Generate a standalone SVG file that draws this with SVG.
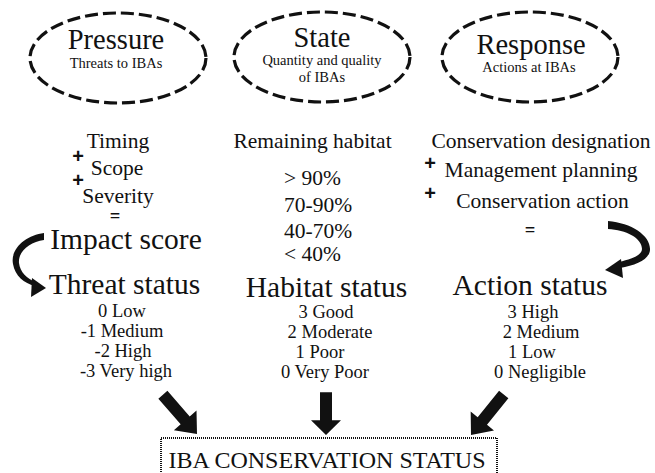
<svg xmlns="http://www.w3.org/2000/svg" width="655" height="473" viewBox="0 0 655 473">
<style>
text{font-family:"Liberation Serif","Times New Roman",serif;fill:#111;text-anchor:middle}
.oval{fill:none;stroke:#111;stroke-width:3.2;stroke-dasharray:13 5}
.t{font-size:28.5px}
.s{font-size:14.5px}
.m{font-size:21.5px}
.b{font-size:29.5px}
.l{font-size:18.5px}
.op{font-family:"Liberation Sans",Arial,sans-serif;font-weight:bold;font-size:20px}
.eq{font-family:"Liberation Sans",Arial,sans-serif;font-weight:bold;font-size:12px}
.ar{fill:#111}
</style>
<defs>
<path id="blk" d="M-6,-52 L6,-52 L6,-18 L15,-18 L0,0 L-15,-18 L-6,-18 Z"/>
</defs>
<g id="pressure">
<ellipse class="oval" cx="118" cy="58" rx="88" ry="45"/>
<text class="t" x="116" y="49">Pressure</text>
<text class="s" x="116" y="68">Threats to IBAs</text>
</g>
<g id="state">
<ellipse class="oval" cx="322" cy="57" rx="88" ry="45"/>
<text class="t" x="322" y="47">State</text>
<text class="s" x="322" y="65">Quantity and quality</text>
<text class="s" x="322" y="82">of IBAs</text>
</g>
<g id="response">
<ellipse class="oval" cx="530" cy="57" rx="88" ry="45"/>
<text class="t" x="531" y="54">Response</text>
<text class="s" x="529" y="72">Actions at IBAs</text>
</g>
<g id="threat">
<text class="m" x="118" y="148">Timing</text>
<text class="op" x="78" y="163">+</text>
<text class="m" x="117" y="175">Scope</text>
<text class="op" x="78" y="187">+</text>
<text class="m" x="118" y="203">Severity</text>
<text class="eq" x="115" y="220" textLength="10" lengthAdjust="spacingAndGlyphs">=</text>
<text class="b" x="126" y="249">Impact score</text>
<text class="b" x="124.5" y="294">Threat status</text>
<text class="l" x="122" y="317">0 Low</text>
<text class="l" x="122" y="337">-1 Medium</text>
<text class="l" x="123" y="357">-2 High</text>
<text class="l" x="126" y="377">-3 Very high</text>
</g>
<g id="habitat">
<text class="m" x="312.5" y="148">Remaining habitat</text>
<text class="m" x="284" y="185" style="text-anchor:start">&gt; 90%</text>
<text class="m" x="284" y="212" style="text-anchor:start">70-90%</text>
<text class="m" x="284" y="238" style="text-anchor:start">40-70%</text>
<text class="m" x="284" y="261" style="text-anchor:start">&lt; 40%</text>
<text class="b" x="326.5" y="297">Habitat status</text>
<text class="l" x="326" y="318">3 Good</text>
<text class="l" x="330" y="338">2 Moderate</text>
<text class="l" x="320" y="358">1 Poor</text>
<text class="l" x="325" y="378">0 Very Poor</text>
</g>
<g id="action">
<text class="m" x="541" y="148">Conservation designation</text>
<text class="op" x="430" y="170">+</text>
<text class="m" x="541" y="177">Management planning</text>
<text class="op" x="430" y="200">+</text>
<text class="m" x="542.5" y="208">Conservation action</text>
<text class="eq" x="530" y="234" textLength="10" lengthAdjust="spacingAndGlyphs">=</text>
<text class="b" x="530" y="295">Action status</text>
<text class="l" x="533" y="318">3 High</text>
<text class="l" x="541" y="338">2 Medium</text>
<text class="l" x="532" y="358">1 Low</text>
<text class="l" x="540" y="378">0 Negligible</text>
</g>
<g id="iba-status">
<rect x="161" y="438" width="336" height="50" fill="none" stroke="#111" stroke-width="2" stroke-dasharray="1 1"/>
<text x="327" y="468" style="font-size:24px">IBA CONSERVATION STATUS</text>
</g>
<g id="connectors">
<path class="ar" d="M44,233 C26,235 10,249 13,264 C15,276 24,283 35,286 L36,282 C27,279 20,272 19,263 C18,251 30,242 44,240 Z"/>
<polygon class="ar" points="32,278 46,288 31,297"/>
<path class="ar" d="M608,221 C632,223 651,236 650,250 C649,260 636,265 620,268 L619,262 C632,259 642,255 642,249 C642,238 626,230 608,229 Z"/>
<polygon class="ar" points="621,259 605,270 623,278"/>
<use href="#blk" class="ar" transform="translate(197,434) rotate(-41)"/>
<use href="#blk" class="ar" transform="translate(326,435) scale(1,0.82)"/>
<use href="#blk" class="ar" transform="translate(471,435) rotate(39)"/>
</g>
</svg>
